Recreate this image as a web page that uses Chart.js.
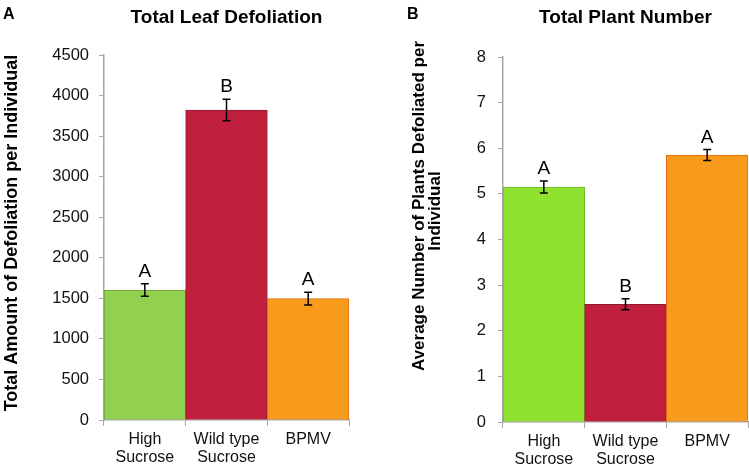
<!DOCTYPE html>
<html>
<head>
<meta charset="utf-8">
<script src="https://cdn.jsdelivr.net/npm/chart.js@4/dist/chart.umd.min.js"></script>
<style>
  html, body { margin: 0; padding: 0; background: #fff; overflow: hidden; }
  #wrap { position: relative; width: 749px; height: 470px; }
  canvas { position: absolute; top: 0; }
</style>
</head>
<body>
<div id="wrap">
  <canvas id="leaf" width="375" height="470" style="left:0"></canvas>
  <canvas id="plant" width="374" height="470" style="left:375px"></canvas>
</div>
<script>
const categories = [['High', 'Sucrose'], ['Wild type', 'Sucrose'], 'BPMV'];

const leafMeans = [1603, 3822, 1496];
const leafErr = [78, 132, 78];
const leafLetters = ['A', 'B', 'A'];

const plantMeans = [5.15, 2.58, 5.85];
const plantErr = [0.13, 0.12, 0.12];
const plantLetters = ['A', 'B', 'A'];

const leafColors = ['#92d14f', '#c0203e', '#f89a1c'];
const leafBorders = ['#6f9e3a', '#8e1a2e', '#e46c0a'];
const plantColors = ['#8fe22f', '#c0203e', '#f89a1c'];
const plantBorders = ['#74b82a', '#8e1a2e', '#e46c0a'];

const FONT = '"Liberation Sans", Arial, sans-serif';
const AXIS = '#a6a6a6';

// error bars, significance letters, titles
const extras = {
    id: 'extras',
    afterDatasetsDraw(chart, args, opts) {
        const ctx = chart.ctx;
        const y = chart.scales.y;
        const meta = chart.getDatasetMeta(0);
        ctx.save();
        for (let i = 0; i < opts.means.length; i++) {
            let x = meta.data[i].x;
            let top = y.getPixelForValue(opts.means[i] + opts.err[i]);
            let bot = y.getPixelForValue(opts.means[i] - opts.err[i]);
            ctx.strokeStyle = '#000';
            ctx.lineWidth = 1.5;
            ctx.beginPath();
            ctx.moveTo(x, top); ctx.lineTo(x, bot);
            ctx.moveTo(x - 4, top); ctx.lineTo(x + 4, top);
            ctx.moveTo(x - 4, bot); ctx.lineTo(x + 4, bot);
            ctx.stroke();

            ctx.fillStyle = '#000';
            ctx.font = '19px ' + FONT;
            ctx.textAlign = 'center';
            ctx.textBaseline = 'alphabetic';
            ctx.fillText(opts.letters[i], x, top - 7);
        }

        const area = chart.chartArea;
        ctx.font = 'bold 19px ' + FONT;
        ctx.textAlign = 'center';
        ctx.textBaseline = 'middle';
        ctx.fillText(opts.title, (area.left + area.right) / 2, 18);

        ctx.font = 'bold 16px ' + FONT;
        ctx.textAlign = 'left';
        ctx.textBaseline = 'alphabetic';
        ctx.fillText(opts.panel, opts.panelX, 19);

        ctx.font = 'bold ' + opts.ytSize + 'px ' + FONT;
        ctx.textAlign = 'center';
        ctx.textBaseline = 'middle';
        for (let l = 0; l < opts.ytitle.length; l++) {
            let t = opts.ytitle[l];
            ctx.save();
            ctx.translate(t.x, t.y);
            ctx.rotate(-Math.PI / 2);
            ctx.fillText(t.text, 0, 0);
            ctx.restore();
        }
        ctx.restore();
    }
};

function makeChart(id, means, colors, borders, yMax, yStep, box, extraOpts) {
    return new Chart(document.getElementById(id), {
        type: 'bar',
        data: {
            labels: categories,
            datasets: [{
                data: means,
                backgroundColor: colors,
                borderColor: borders,
                borderWidth: 1,
                barPercentage: 1,
                categoryPercentage: 1
            }]
        },
        options: {
            responsive: false,
            animation: false,
            layout: { padding: { top: box.top, right: box.right, left: 0, bottom: 0 } },
            plugins: {
                legend: { display: false },
                tooltip: { enabled: false },
                extras: extraOpts
            },
            scales: {
                x: {
                    grid: { display: true, drawOnChartArea: false, offset: true, color: AXIS, tickLength: 6 },
                    border: { color: AXIS, width: 1.5 },
                    ticks: { color: '#111', font: { family: FONT, size: 16, lineHeight: 1.15 }, padding: 4, maxRotation: 0 },
                    afterFit(scale) { scale.height = box.xh; }
                },
                y: {
                    min: 0,
                    max: yMax,
                    ticks: {
                        stepSize: yStep,
                        color: '#111',
                        font: { family: FONT, size: 16.5 },
                        padding: box.tickPad,
                        callback: v => String(v)
                    },
                    grid: { display: true, drawOnChartArea: false, color: AXIS, tickLength: 5 },
                    border: { color: AXIS, width: 1.5 },
                    afterFit(scale) { scale.width = box.yw; }
                }
            }
        },
        plugins: [extras]
    });
}

makeChart('leaf', leafMeans, leafColors, leafBorders, 4500, 500,
    { top: 55, right: 26, xh: 50, yw: 104, tickPad: 10 },
    {
        means: leafMeans, err: leafErr, letters: leafLetters,
        title: 'Total Leaf Defoliation', panel: 'A', panelX: 3, ytSize: 18,
        ytitle: [{ text: 'Total Amount of Defoliation per Individual', x: 12, y: 233 }]
    });

makeChart('plant', plantMeans, plantColors, plantBorders, 8, 1,
    { top: 57, right: 1, xh: 48, yw: 128, tickPad: 12 },
    {
        means: plantMeans, err: plantErr, letters: plantLetters,
        title: 'Total Plant Number', panel: 'B', panelX: 32, ytSize: 17,
        ytitle: [
            { text: 'Average Number of Plants Defoliated per', x: 44, y: 206 },
            { text: 'Individual', x: 60, y: 211 }
        ]
    });
</script>
</body>
</html>
